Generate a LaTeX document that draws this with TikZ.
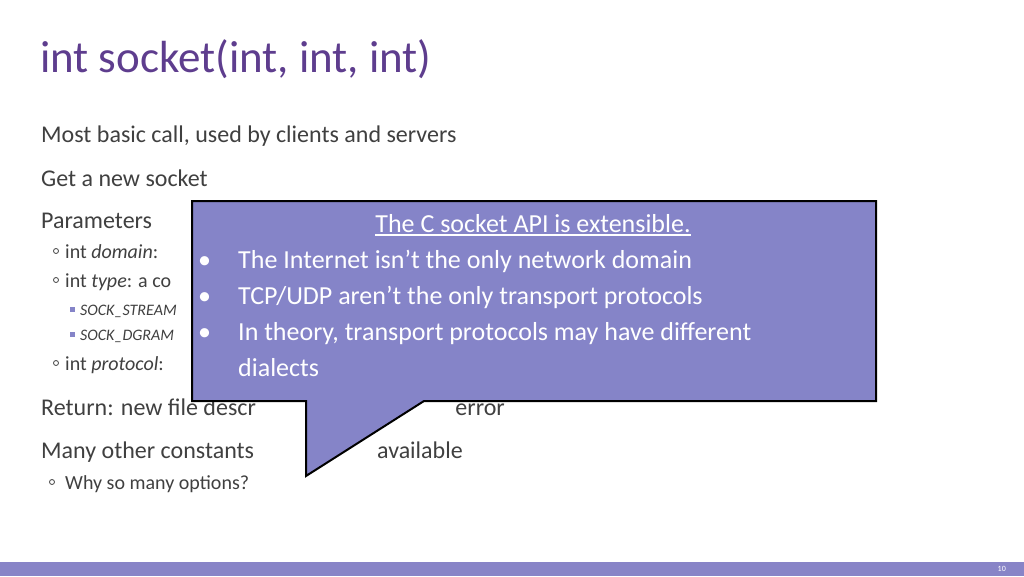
\documentclass[tikz,border=0pt]{standalone}
\usepackage{fontspec}
\setmainfont{Carlito}
\definecolor{slidepurple}{HTML}{5E3D8E}
\definecolor{boxpurple}{HTML}{8584C8}
\definecolor{bodygrey}{HTML}{404040}
\definecolor{barpurple}{HTML}{8884C7}
\begin{document}
\begin{tikzpicture}[x=1pt,y=-1pt]
    % `txt' is used for all slide texts, `ring' and `sq' for the bullets.
    \tikzstyle{txt} = [anchor=base west,inner sep=0pt,text=bodygrey]
    \tikzstyle{ring} = [draw=bodygrey,line width=0.8pt,circle,inner sep=0pt,minimum size=5pt]
    \tikzstyle{sq} = [fill=boxpurple,inner sep=0pt,minimum size=5pt]
    \tikzstyle{callout} = [fill=boxpurple,draw=black,line width=2pt,line join=miter]
    \tikzstyle{ctxt} = [anchor=base west,inner sep=0pt,text=white,font=\fontsize{26}{30}\selectfont]
    %
    \useasboundingbox (0,0) rectangle (1024,576);
    \fill[white] (0,0) rectangle (1024,576);
    \fill[barpurple] (0,562) rectangle (1024,576);
    \node[anchor=base east,inner sep=0pt,text=white,font=\fontsize{8}{9}\selectfont] (pagenum) at (1006,571) {10};
    \node[txt,text=slidepurple,font=\fontsize{45}{50}\selectfont] (title) at (40,72) {int socket(int, int, int)};
    %
    \node[txt,font=\fontsize{24}{28}\selectfont] (basic) at (41,142) {Most basic call, used by clients and servers};
    \node[txt,font=\fontsize{24}{28}\selectfont] (getnew) at (41,186) {Get a new socket};
    \node[txt,font=\fontsize{24}{28}\selectfont] (params) at (41,228) {Parameters};
    \node[ring] (r1) at (56,251) {};
    \node[txt,font=\fontsize{20}{24}\selectfont] (domain) at (65,258) {int \textit{domain}: };
    \node[ring] (r2) at (56,280) {};
    \node[txt,font=\fontsize{20}{24}\selectfont] (type) at (65,287) {int \textit{type}: a co};
    \node[sq] (s1) at (72,309) {};
    \node[txt,font=\fontsize{16}{19}\selectfont] (stream) at (80,315) {\textit{SOCK\_STREAM}};
    \node[sq] (s2) at (72,334) {};
    \node[txt,font=\fontsize{16}{19}\selectfont] (dgram) at (80,340) {\textit{SOCK\_DGRAM}};
    \node[ring] (r3) at (56,363) {};
    \node[txt,font=\fontsize{20}{24}\selectfont] (proto) at (65,370) {int \textit{protocol}:};
    \node[txt,font=\fontsize{24}{28}\selectfont] (ret) at (41,415) {Return: new file descr};
    \node[txt,anchor=base east,font=\fontsize{24}{28}\selectfont] (reterr) at (505,415) {error};
    \node[txt,font=\fontsize{24}{28}\selectfont] (many) at (41,458) {Many other constants};
    \node[txt,anchor=base east,font=\fontsize{24}{28}\selectfont] (avail) at (463,458) {available};
    \node[ring] (r4) at (52,482) {};
    \node[txt,font=\fontsize{20}{24}\selectfont] (why) at (65,489) {Why so many options?};
    %
    % Draw callout box with its tail.
    \draw[callout] (192,201) -- (876,201) -- (876,401) -- (424,401) -- (306,476) -- (306,401) -- (192,401) -- cycle;
    \node[ctxt,anchor=base] (ctitle) at (533,232) {The C socket API is extensible.};
    \draw[white,line width=1.2pt] ([yshift=-3pt]ctitle.base west) -- ([yshift=-3pt]ctitle.base east);
    \foreach \y/\t in {268/{The Internet isn’t the only network domain},
                       304/{TCP/UDP aren’t the only transport protocols},
                       340/{In theory, transport protocols may have different}} {
      \node[ctxt] at (198,\y) {•};
      \node[ctxt] at (238,\y) {\t};
    }
    \node[ctxt] (dial) at (238,376) {dialects};
\end{tikzpicture}
\end{document}
